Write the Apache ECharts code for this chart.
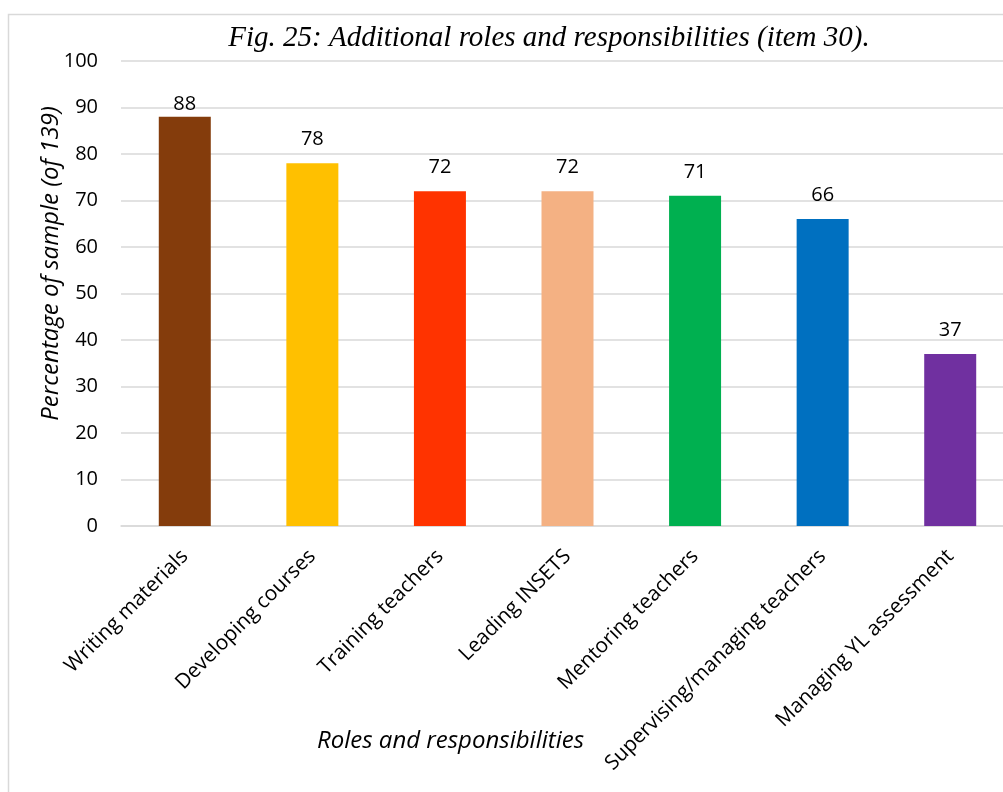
<!DOCTYPE html>
<html>
<head>
<meta charset="utf-8">
<script src="https://cdn.jsdelivr.net/npm/echarts@6/dist/echarts.min.js"></script>
<style>
  html, body { margin: 0; padding: 0; background: #fff; }
  #chart { width: 1003px; height: 792px; }
</style>
</head>
<body>
<div id="chart"></div>
<script>
// Roles reported by respondents and the share of the sample (n = 139) holding each
const categories = [
  'Writing materials',
  'Developing courses',
  'Training teachers',
  'Leading INSETS',
  'Mentoring teachers',
  'Supervising/managing teachers',
  'Managing YL assessment'
];
const percentages = [88, 78, 72, 72, 71, 66, 37];
const barColors = ['#843C0C', '#FFC000', '#FF3300', '#F4B183', '#00B050', '#0070C0', '#7030A0'];
const yTicks = [0, 10, 20, 30, 40, 50, 60, 70, 80, 90, 100];

const labelFont = '"Open Sans", Lato, sans-serif';

const chart = echarts.init(document.getElementById('chart'));
chart.setOption({
  animation: false,
  graphic: [{
    type: 'rect',
    shape: { x: 8.5, y: 14.5, width: 1200, height: 1000 },
    style: { fill: 'none', stroke: '#d9d9d9', lineWidth: 1.5 },
    silent: true
  }],
  title: {
    text: 'Fig. 25: Additional roles and responsibilities (item 30).',
    left: 544,
    top: 19,
    textAlign: 'center',
    textStyle: {
      fontFamily: '"Liberation Serif", "Times New Roman", serif',
      fontStyle: 'italic',
      fontWeight: 'normal',
      fontSize: 29,
      color: '#000'
    }
  },
  grid: {
    left: 121, width: 893, top: 61, bottom: 266,
    containLabel: false,
    outerBoundsMode: 'none'
  },
  xAxis: {
    type: 'category',
    data: categories,
    name: 'Roles and responsibilities',
    nameLocation: 'middle',
    nameGap: 203,
    nameMoveOverlap: false,
    nameTextStyle: {
      fontFamily: labelFont,
      fontStyle: 'italic',
      fontSize: 24,
      color: '#000',
      padding: [0, 0, 0, -234]
    },
    axisLine: { show: true, lineStyle: { color: '#d9d9d9', width: 1.5 } },
    axisTick: { show: false },
    axisLabel: {
      rotate: 45,
      interval: 0,
      margin: 27,
      fontFamily: labelFont,
      fontSize: 20.7,
      color: '#000'
    }
  },
  yAxis: {
    type: 'value',
    min: yTicks[0],
    max: yTicks[yTicks.length - 1],
    interval: yTicks[1] - yTicks[0],
    name: 'Percentage of sample (of 139)',
    nameLocation: 'middle',
    nameGap: 58,
    nameMoveOverlap: false,
    nameTextStyle: {
      fontFamily: labelFont,
      fontStyle: 'italic',
      fontSize: 24,
      color: '#000',
      padding: [0, 0, 0, 60]
    },
    axisLine: { show: false },
    axisTick: { show: false },
    splitLine: { lineStyle: { color: '#d9d9d9', width: 1.5 } },
    axisLabel: {
      margin: 23,
      fontFamily: labelFont,
      fontSize: 20,
      color: '#000'
    }
  },
  series: [{
    type: 'bar',
    barWidth: 52,
    data: percentages.map((v, i) => ({
      value: v,
      itemStyle: { color: barColors[i] },
      // the tallest bar's label sits tighter against the top of the plot
      label: { distance: i === 0 ? 3 : 14 }
    })),
    label: {
      show: true,
      position: 'top',
      fontFamily: labelFont,
      fontSize: 20,
      color: '#000'
    }
  }]
});
</script>
</body>
</html>
